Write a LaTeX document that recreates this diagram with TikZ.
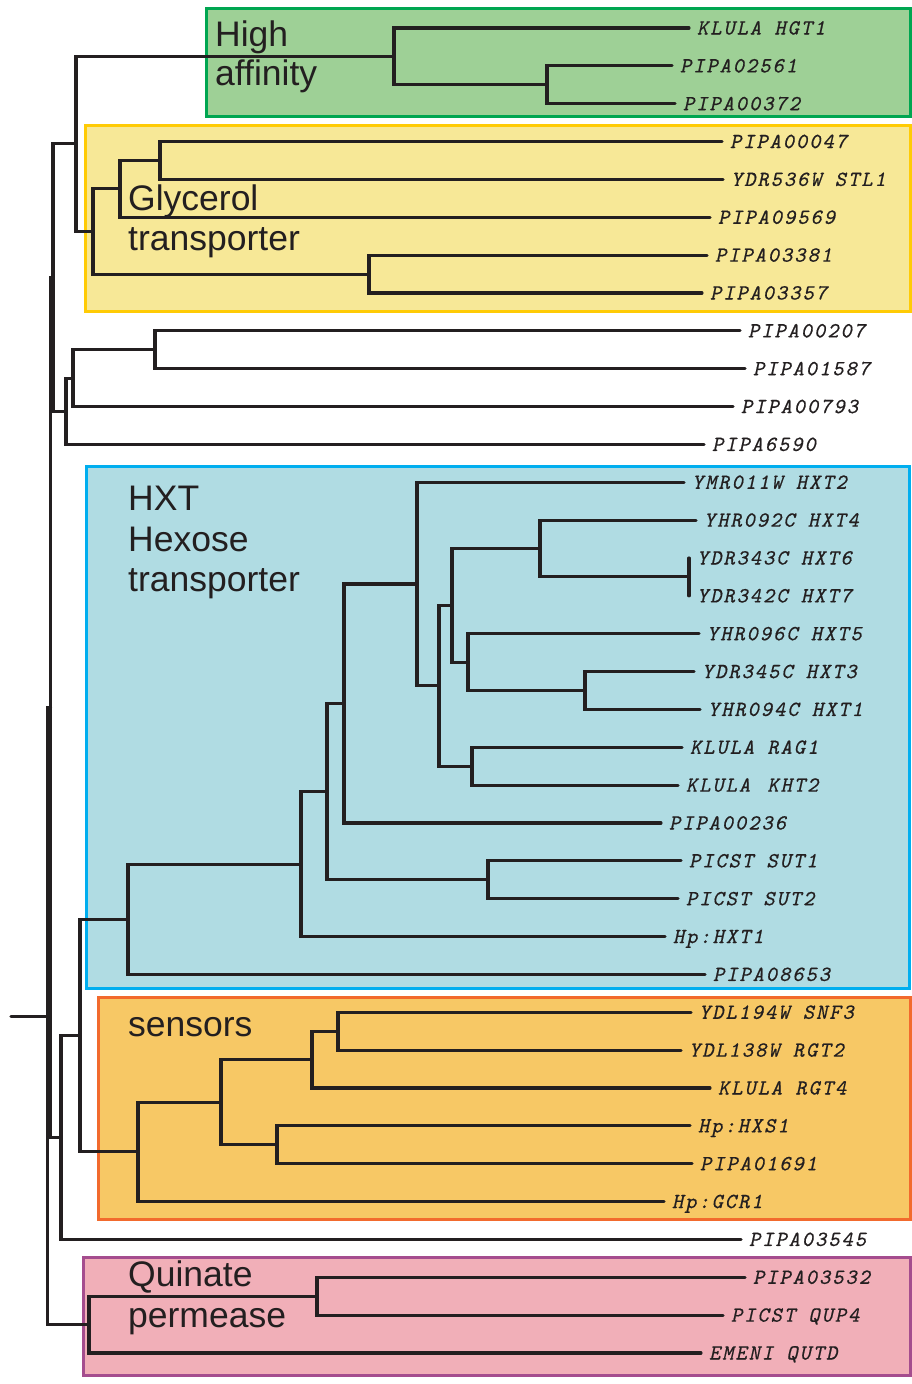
\documentclass[tikz,border=0pt]{standalone}
\usepackage{fontspec}
\setmainfont{Liberation Sans}
\newfontfamily\leaffont{lmmono10-regular.otf}[LetterSpace=9, FakeSlant=0.22, FakeBold=0.6]
\definecolor{linec}{HTML}{231F20}
\definecolor{gfill}{HTML}{9ED096}
\definecolor{gdraw}{HTML}{00A651}
\definecolor{yfill}{HTML}{F7E897}
\definecolor{ydraw}{HTML}{FFCB05}
\definecolor{bfill}{HTML}{B0DCE3}
\definecolor{bdraw}{HTML}{00AEEF}
\definecolor{ofill}{HTML}{F7C865}
\definecolor{odraw}{HTML}{F26A2D}
\definecolor{pfill}{HTML}{F1AFB8}
\definecolor{pdraw}{HTML}{A54D8E}
\begin{document}
\begin{tikzpicture}[x=1pt,y=-1pt,
  br/.style={draw=linec, line width=3.1pt, line cap=round, line join=miter},
  leaf/.style={anchor=west, inner xsep=8pt, inner ysep=0pt, outer sep=0pt,
    font=\leaffont\fontsize{21.5}{24}\selectfont, text=linec,
    text height=13pt, text depth=0pt},
  grp/.style={anchor=base west, inner sep=0pt,
    font=\fontsize{35.5}{40}\selectfont, text=linec},
  grpbox/.style={line width=3pt}]
\useasboundingbox (0,0) rectangle (912,1384);

% group boxes
\path[grpbox, fill=gfill, draw=gdraw] (206,8.3) rectangle (910,116.5);
\path[grpbox, fill=yfill, draw=ydraw] (85,125.5) rectangle (910,311);
\path[grpbox, fill=bfill, draw=bdraw] (86,466) rectangle (909,988);
\path[grpbox, fill=ofill, draw=odraw] (98.5,997.3) rectangle (910,1219);
\path[grpbox, fill=pfill, draw=pdraw] (83.5,1257) rectangle (910,1375.5);

% leaves
\node[leaf] (L1)  at (689,28)      {KLULA HGT1};
\node[leaf] (L2)  at (672,65.86)   {PIPA02561};
\node[leaf] (L3)  at (675,103.71)  {PIPA00372};
\node[leaf] (L4)  at (722,141.57)  {PIPA00047};
\node[leaf] (L5)  at (723,179.43)  {YDR536W STL1};
\node[leaf] (L6)  at (710,217.29)  {PIPA09569};
\node[leaf] (L7)  at (707,255.14)  {PIPA03381};
\node[leaf] (L8)  at (702,293)     {PIPA03357};
\node[leaf] (L9)  at (740,330.86)  {PIPA00207};
\node[leaf] (L10) at (745,368.71)  {PIPA01587};
\node[leaf] (L11) at (733,406.57)  {PIPA00793};
\node[leaf] (L12) at (704,444.43)  {PIPA6590};
\node[leaf] (L13) at (684,482.29)  {YMR011W HXT2};
\node[leaf] (L14) at (696,520.14)  {YHR092C HXT4};
\node[leaf] (L15) at (689,558)     {YDR343C HXT6};
\node[leaf] (L16) at (689,595.86)  {YDR342C HXT7};
\node[leaf] (L17) at (699,633.71)  {YHR096C HXT5};
\node[leaf] (L18) at (694,671.57)  {YDR345C HXT3};
\node[leaf] (L19) at (700,709.43)  {YHR094C HXT1};
\node[leaf] (L20) at (682,747.29)  {KLULA RAG1};
\node[leaf] (L21) at (678,785.14)  {KLULA\ \kern4pt KHT2};
\node[leaf] (L22) at (661,823)     {PIPA00236};
\node[leaf] (L23) at (681,860.86)  {PICST SUT1};
\node[leaf] (L24) at (678,898.71)  {PICST SUT2};
\node[leaf] (L25) at (665,936.57)  {Hp:HXT1};
\node[leaf] (L26) at (705,974.43)  {PIPA08653};
\node[leaf] (L27) at (691,1012.29) {YDL194W SNF3};
\node[leaf] (L28) at (681,1050.14) {YDL138W RGT2};
\node[leaf] (L29) at (710,1088)    {KLULA RGT4};
\node[leaf] (L30) at (690,1125.86) {Hp:HXS1};
\node[leaf] (L31) at (692,1163.71) {PIPA01691};
\node[leaf] (L32) at (664,1201.57) {Hp:GCR1};
\node[leaf] (L33) at (741,1239.43) {PIPA03545};
\node[leaf] (L34) at (745,1277.29) {PIPA03532};
\node[leaf] (L35) at (723,1315.14) {PICST QUP4};
\node[leaf] (L36) at (701,1353)    {EMENI QUTD};

% internal nodes
\coordinate (A2) at (547,84.79);
\coordinate (A1) at (394,56.39);
\coordinate (G4) at (160,160.5);
\coordinate (G2) at (120,188.9);
\coordinate (G3) at (369,274.07);
\coordinate (G1) at (93,231.48);
\coordinate (N1) at (76,143.94);
\coordinate (N4) at (155,349.79);
\coordinate (N3) at (73,378.18);
\coordinate (N2) at (66,411.3);
\coordinate (P1) at (53,277.62);
\coordinate (H67) at (689,576.93);
\coordinate (H4) at (540,548.54);
\coordinate (H31) at (585,690.5);
\coordinate (H5) at (468,662.1);
\coordinate (H3) at (452,605.32);
\coordinate (RAG) at (472,766.21);
\coordinate (H2) at (439,685.77);
\coordinate (H1) at (417,584.03);
\coordinate (H0) at (344,703.5);
\coordinate (SUT) at (488,879.79);
\coordinate (Hb) at (327,791.65);
\coordinate (Hc) at (301,864.11);
\coordinate (Hd) at (128,919.27);
\coordinate (Se3) at (338,1031.21);
\coordinate (Se2) at (312,1059.6);
\coordinate (Se4) at (277,1144.79);
\coordinate (Se1) at (221,1102.2);
\coordinate (Se) at (138,1151.89);
\coordinate (S) at (80,1035.58);
\coordinate (T) at (61,1137.5);
\coordinate (R2) at (50.5,707.56);
\coordinate (Q1) at (317,1296.21);
\coordinate (Q) at (89,1324.6);
\coordinate (Root) at (47.5,1016.08);
\coordinate (stub) at (11,1016.08);

% branches
\draw[br] (L2) -| (A2) |- (L3);
\draw[br] (L1) -| (A1) |- (A2);
\draw[br] (L4) -| (G4) |- (L5);
\draw[br] (G4) -| (G2) |- (L6);
\draw[br] (L7) -| (G3) |- (L8);
\draw[br] (G2) -| (G1) |- (G3);
\draw[br] (A1) -| (N1) |- (G1);
\draw[br] (L9) -| (N4) |- (L10);
\draw[br] (N4) -| (N3) |- (L11);
\draw[br] (N3) -| (N2) |- (L12);
\draw[br] (N1) -| (P1) |- (N2);
\draw[br] (L15) -| (H67) |- (L16);
\draw[br] (L14) -| (H4) |- (H67);
\draw[br] (L18) -| (H31) |- (L19);
\draw[br] (L17) -| (H5) |- (H31);
\draw[br] (H4) -| (H3) |- (H5);
\draw[br] (L20) -| (RAG) |- (L21);
\draw[br] (H3) -| (H2) |- (RAG);
\draw[br] (L13) -| (H1) |- (H2);
\draw[br] (H1) -| (H0) |- (L22);
\draw[br] (L23) -| (SUT) |- (L24);
\draw[br] (H0) -| (Hb) |- (SUT);
\draw[br] (Hb) -| (Hc) |- (L25);
\draw[br] (Hc) -| (Hd) |- (L26);
\draw[br] (L27) -| (Se3) |- (L28);
\draw[br] (Se3) -| (Se2) |- (L29);
\draw[br] (L30) -| (Se4) |- (L31);
\draw[br] (Se2) -| (Se1) |- (Se4);
\draw[br] (Se1) -| (Se) |- (L32);
\draw[br] (Hd) -| (S) |- (Se);
\draw[br] (S) -| (T) |- (L33);
\draw[br] (P1) -| (R2) |- (T);
\draw[br] (L34) -| (Q1) |- (L35);
\draw[br] (Q1) -| (Q) |- (L36);
\draw[br] (R2) -| (Root) |- (Q);
\draw[br] (stub) -- (Root);

% group labels
\node[grp] (gHigh1) at (215,46)   {High};
\node[grp] (gHigh2) at (215,85)   {affinity};
\node[grp] (gGly1)  at (128,210)  {Glycerol};
\node[grp] (gGly2)  at (128,250)  {transporter};
\node[grp] (gHxt1)  at (128,510)  {HXT};
\node[grp] (gHxt2)  at (128,551)  {Hexose};
\node[grp] (gHxt3)  at (128,591)  {transporter};
\node[grp] (gSen)   at (128,1036) {sensors};
\node[grp] (gQui1)  at (128,1286) {Quinate};
\node[grp] (gQui2)  at (128,1327) {permease};
\end{tikzpicture}
\end{document}
